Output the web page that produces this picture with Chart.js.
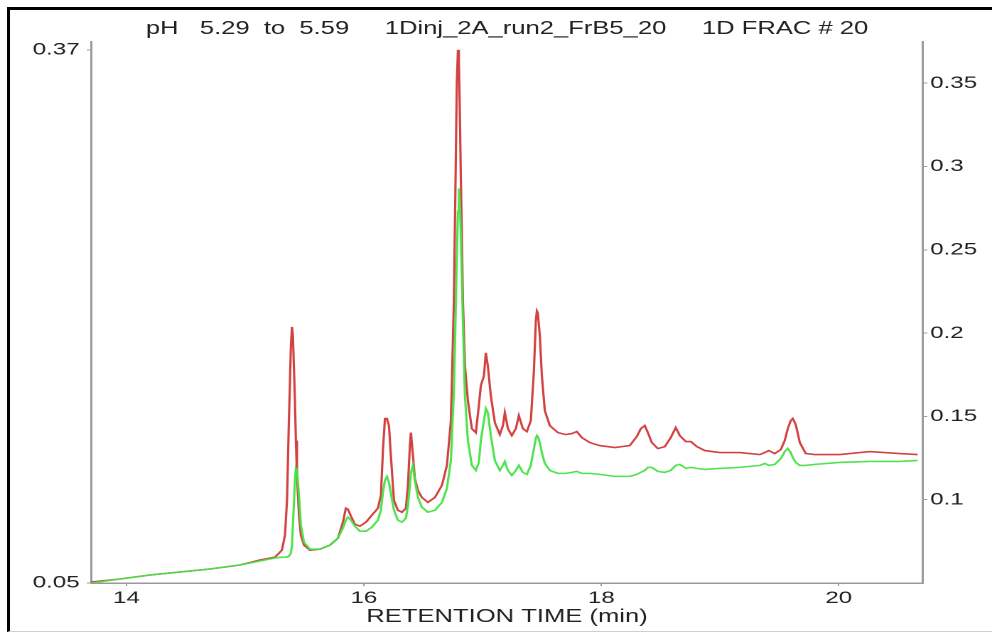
<!DOCTYPE html>
<html>
<head>
<meta charset="utf-8">
<title>pH 5.29 to 5.59 — 1Dinj_2A_run2_FrB5_20</title>
<script src="https://cdn.jsdelivr.net/npm/chart.js@4/dist/chart.umd.min.js"></script>
<style>
  html, body { margin: 0; padding: 0; background: #fff; }
  #wrap { position: relative; width: 992px; height: 633px; overflow: hidden; }
  /* the instrument printout is wide: the plot is laid out on a narrower stage and stretched sideways */
  #stage {
    position: absolute; left: 0; top: 0; width: 698px; height: 633px;
    transform: scaleX(1.42120); transform-origin: 0 0;
  }
  #frame {
    position: absolute; left: 7px; top: 7px; width: 985px; height: 625px;
    border-left: 3px solid #000; border-top: 3px solid #000;
    border-bottom: 1px solid #d0d0d0; box-sizing: border-box; pointer-events: none;
  }
</style>
</head>
<body>
<div id="wrap">
  <div id="stage"><canvas id="chart" width="698" height="633"></canvas></div>
  <div id="frame"></div>
</div>
<script>
// Retention time (min) shared by both traces
const times = [
  13.701, 13.945, 14.198, 14.451, 14.703, 14.956, 15.124, 15.251, 15.309, 15.335,
  15.352, 15.368, 15.385, 15.394, 15.402, 15.419, 15.427, 15.436, 15.453, 15.469,
  15.495, 15.545, 15.629, 15.714, 15.781, 15.823, 15.848, 15.865, 15.891, 15.924,
  15.966, 16.017, 16.067, 16.118, 16.143, 16.160, 16.177, 16.194, 16.211, 16.227,
  16.253, 16.286, 16.320, 16.354, 16.371, 16.387, 16.396, 16.413, 16.429, 16.455,
  16.488, 16.539, 16.598, 16.657, 16.699, 16.733, 16.758, 16.775, 16.783, 16.792,
  16.800, 16.808, 16.817, 16.834, 16.851, 16.876, 16.909, 16.943, 16.968, 16.985,
  17.011, 17.027, 17.044, 17.069, 17.103, 17.145, 17.171, 17.187, 17.213, 17.246,
  17.280, 17.305, 17.339, 17.373, 17.406, 17.432, 17.448, 17.457, 17.465, 17.482,
  17.499, 17.524, 17.566, 17.634, 17.701, 17.752, 17.794, 17.836, 17.903, 17.987,
  18.114, 18.240, 18.299, 18.333, 18.366, 18.392, 18.425, 18.476, 18.535, 18.585,
  18.627, 18.661, 18.712, 18.754, 18.804, 18.872, 18.998, 19.166, 19.335, 19.377,
  19.411, 19.461, 19.512, 19.545, 19.571, 19.596, 19.613, 19.638, 19.672, 19.722,
  19.798, 20.008, 20.261, 20.514, 20.665
];

// Absorbance, red trace
const redTrace = [
  0.0506, 0.0524, 0.0548, 0.0566, 0.0584, 0.0608, 0.0638, 0.0655, 0.0697, 0.0787,
  0.0996, 0.1475, 0.1923, 0.2037, 0.1983, 0.1594, 0.1355, 0.1146, 0.0907, 0.0787,
  0.0727, 0.0697, 0.0703, 0.0727, 0.0769, 0.0865, 0.0949, 0.0943, 0.0901, 0.0853,
  0.0841, 0.0865, 0.0907, 0.0949, 0.1026, 0.1295, 0.1487, 0.1487, 0.1445, 0.1266,
  0.0996, 0.0937, 0.0925, 0.0949, 0.1086, 0.1325, 0.1403, 0.1266, 0.1128, 0.1056,
  0.1014, 0.0984, 0.1014, 0.1086, 0.1206, 0.1475, 0.2193, 0.3090, 0.3508, 0.3700,
  0.3628, 0.3329, 0.2910, 0.2193, 0.1804, 0.1594, 0.1427, 0.1403, 0.1565, 0.1684,
  0.1744, 0.1882, 0.1804, 0.1624, 0.1463, 0.1391, 0.1445, 0.1523, 0.1427, 0.1385,
  0.1427, 0.1505, 0.1427, 0.1409, 0.1475, 0.1774, 0.2073, 0.2133, 0.2121, 0.1983,
  0.1744, 0.1535, 0.1445, 0.1403, 0.1391, 0.1397, 0.1409, 0.1373, 0.1343, 0.1325,
  0.1313, 0.1325, 0.1379, 0.1427, 0.1445, 0.1403, 0.1343, 0.1307, 0.1319, 0.1373,
  0.1433, 0.1385, 0.1349, 0.1349, 0.1319, 0.1295, 0.1283, 0.1283, 0.1271, 0.1283,
  0.1295, 0.1277, 0.1301, 0.1355, 0.1427, 0.1475, 0.1487, 0.1451, 0.1343, 0.1277,
  0.1271, 0.1271, 0.1289, 0.1277, 0.1271
];

// Absorbance, green trace
const greenTrace = [
  0.0500, 0.0524, 0.0548, 0.0566, 0.0584, 0.0608, 0.0632, 0.0650, 0.0655, 0.0655,
  0.0655, 0.0661, 0.0679, 0.0727, 0.0847, 0.1116, 0.1188, 0.1176, 0.1026, 0.0847,
  0.0745, 0.0703, 0.0703, 0.0727, 0.0769, 0.0829, 0.0877, 0.0895, 0.0877, 0.0841,
  0.0811, 0.0811, 0.0835, 0.0877, 0.0937, 0.1044, 0.1116, 0.1140, 0.1104, 0.1038,
  0.0937, 0.0877, 0.0865, 0.0889, 0.0966, 0.1086, 0.1164, 0.1206, 0.1116, 0.1014,
  0.0955, 0.0925, 0.0937, 0.0984, 0.1068, 0.1236, 0.1654, 0.2193, 0.2462, 0.2731,
  0.2868, 0.2790, 0.2581, 0.2073, 0.1624, 0.1355, 0.1206, 0.1176, 0.1224, 0.1355,
  0.1475, 0.1547, 0.1523, 0.1385, 0.1236, 0.1176, 0.1206, 0.1230, 0.1176, 0.1146,
  0.1176, 0.1206, 0.1164, 0.1152, 0.1206, 0.1307, 0.1367, 0.1385, 0.1379, 0.1343,
  0.1283, 0.1218, 0.1176, 0.1158, 0.1158, 0.1164, 0.1170, 0.1158, 0.1158, 0.1152,
  0.1140, 0.1140, 0.1152, 0.1164, 0.1176, 0.1194, 0.1194, 0.1170, 0.1164, 0.1176,
  0.1206, 0.1212, 0.1188, 0.1194, 0.1188, 0.1182, 0.1188, 0.1194, 0.1206, 0.1218,
  0.1206, 0.1212, 0.1247, 0.1289, 0.1307, 0.1283, 0.1253, 0.1224, 0.1206, 0.1206,
  0.1212, 0.1224, 0.1230, 0.1230, 0.1236
];

// Axis tick labels
const timeTicks = [14, 16, 18, 20];
const leftTicks = [0.05, 0.37];
const rightTicks = [0.1, 0.15, 0.2, 0.25, 0.3, 0.35];

const titleText = 'pH   5.29  to  5.59     1Dinj_2A_run2_FrB5_20     1D FRAC # 20';

const toPoints = vals => times.map((t, i) => ({ x: t, y: vals[i] }));

const tickFont = { family: 'Liberation Sans', size: 17 };
const axisGray = '#9a9a9a';
const tickGrid = { display: true, drawOnChartArea: false, drawTicks: true, tickLength: 3, color: axisGray };

new Chart(document.getElementById('chart'), {
  type: 'line',
  data: {
    datasets: [
      {
        label: 'green',
        data: toPoints(greenTrace),
        borderColor: 'rgba(70, 225, 70, 0.95)',
        borderWidth: 1.6,
        pointRadius: 0,
        tension: 0,
        yAxisID: 'y'
      },
      {
        label: 'red',
        data: toPoints(redTrace),
        borderColor: 'rgba(205, 45, 45, 0.9)',
        borderWidth: 1.6,
        pointRadius: 0,
        tension: 0,
        yAxisID: 'y'
      }
    ]
  },
  options: {
    responsive: false,
    animation: false,
    devicePixelRatio: 2,
    events: [],
    layout: { padding: 0 },
    plugins: {
      legend: { display: false },
      tooltip: { enabled: false },
      title: {
        display: true,
        text: titleText,
        fullSize: false,
        color: '#222',
        font: { family: 'Liberation Sans', size: 18, weight: 'normal' },
        padding: { top: 18, bottom: 2 }
      }
    },
    scales: {
      x: {
        type: 'linear',
        position: 'bottom',
        min: 13.701,
        max: 20.71,
        afterBuildTicks: s => { s.ticks = timeTicks.map(v => ({ value: v })); },
        afterFit: s => { s.height = 50; },
        grid: tickGrid,
        border: { display: true, color: axisGray, width: 1.5 },
        ticks: { font: tickFont, color: '#222', padding: 2, maxRotation: 0, autoSkip: false,
                 callback: v => String(v) },
        title: { display: true, text: 'RETENTION TIME (min)', color: '#222',
                 font: { family: 'Liberation Sans', size: 18 }, padding: { top: 0, bottom: 5 } }
      },
      y: {
        type: 'linear',
        position: 'left',
        min: 0.05,
        max: 0.375,
        afterBuildTicks: s => { s.ticks = leftTicks.map(v => ({ value: v })); },
        afterFit: s => { s.width = 64.03; },
        grid: tickGrid,
        border: { display: true, color: axisGray, width: 1.5 },
        ticks: { font: tickFont, color: '#222', padding: 5, callback: v => v.toFixed(2) }
      },
      y2: {
        type: 'linear',
        position: 'right',
        min: 0.05,
        max: 0.375,
        afterBuildTicks: s => { s.ticks = rightTicks.map(v => ({ value: v })); },
        afterFit: s => { s.width = 48.54; },
        grid: tickGrid,
        border: { display: true, color: axisGray, width: 1.5 },
        ticks: { font: tickFont, color: '#222', padding: 2, callback: v => String(v) }
      }
    }
  }
});
</script>
</body>
</html>
